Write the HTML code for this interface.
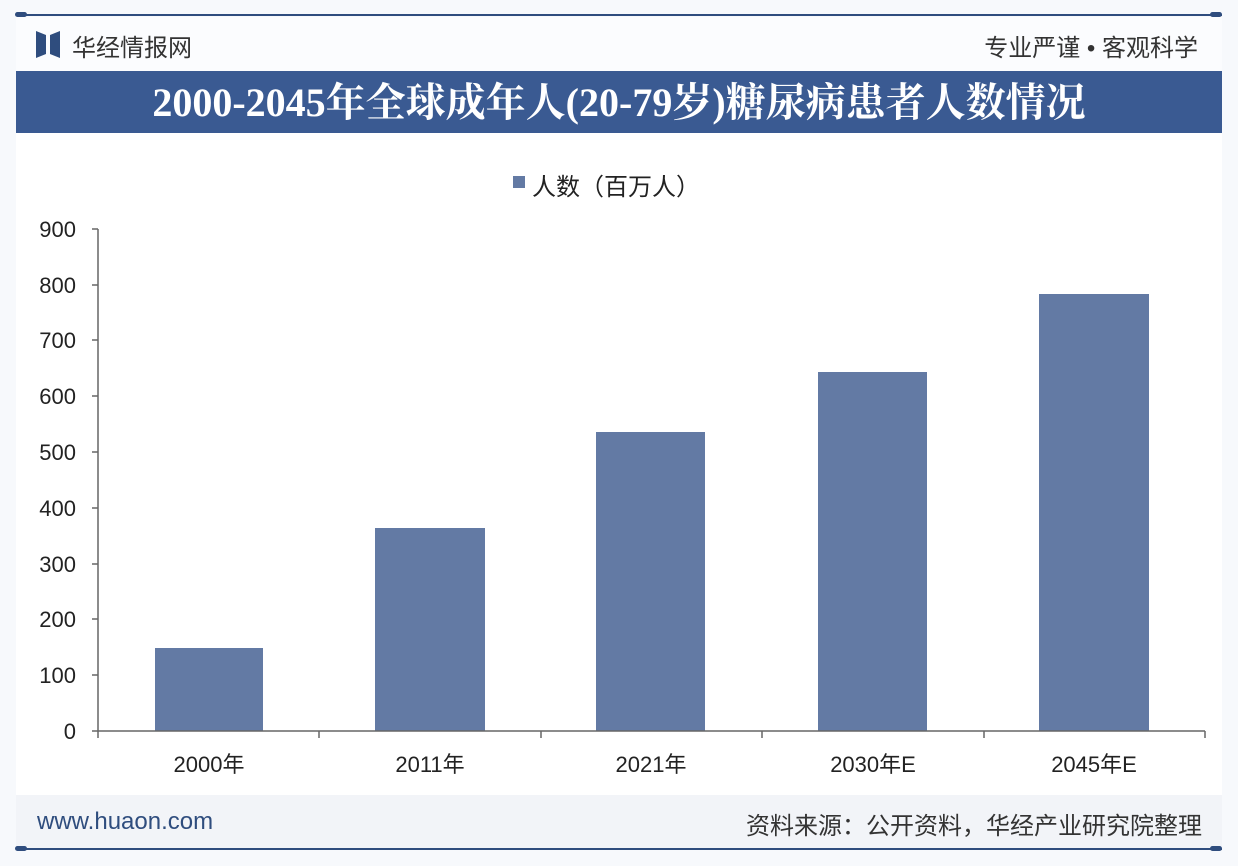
<!DOCTYPE html>
<html><head><meta charset="utf-8"><style>
body{margin:0;width:1238px;height:866px;background:#f7f9fc;position:relative;overflow:hidden;font-family:"Liberation Sans","Noto Sans CJK SC",sans-serif}
.a{position:absolute}
</style></head><body>
<div class="a" style="left:16px;top:14px;width:1206px;height:2px;background:#2f4d7e"></div>
<div class="a" style="left:15px;top:12px;width:12px;height:5px;border-radius:3px;background:#2f4d7e"></div>
<div class="a" style="left:1210px;top:12px;width:12px;height:5px;border-radius:3px;background:#2f4d7e"></div>
<div class="a" style="left:16px;top:17px;width:1206px;height:54px;background:#fbfcfe"></div>
<svg class="a" style="left:36px;top:31px" width="24" height="27"><polygon points="0,0 10,4 10,23 0,27" fill="#2f4d7e"/><polygon points="24,0 14,4 14,23 24,27" fill="#2f4d7e"/></svg>
<div class="a" style="left:72px;top:28px;font-size:24px;color:#333">华经情报网</div>
<div class="a" style="right:40px;top:28px;font-size:24px;color:#333">专业严谨 • 客观科学</div>
<div class="a" style="left:16px;top:71px;width:1206px;height:62px;background:#3a5a92"></div>
<div class="a" style="left:16px;top:80px;width:1206px;text-align:center;font-size:40px;line-height:46px;font-weight:bold;color:#fff;font-family:'Liberation Serif','Noto Serif CJK SC',serif">2000-2045年全球成年人(20-79岁)糖尿病患者人数情况</div>
<div class="a" style="left:16px;top:133px;width:1206px;height:662px;background:#fff"></div>
<div class="a" style="left:513px;top:176px;width:12px;height:12px;background:#637aa4"></div>
<div class="a" style="left:532px;top:167px;font-size:24px;color:#222">人数（百万人）</div>
<svg class="a" style="left:0;top:0" width="1238" height="866">
<g fill="#637aa4">
<rect x="155" y="648" width="108" height="83"/>
<rect x="375" y="528" width="110" height="203"/>
<rect x="596" y="432" width="109" height="299"/>
<rect x="818" y="372" width="109" height="359"/>
<rect x="1039" y="294" width="110" height="437"/>
</g>
<g stroke="#666" stroke-width="1.5" fill="none">
<line x1="98" y1="229" x2="98" y2="731"/>
<line x1="98" y1="731" x2="1205" y2="731"/>
<path d="M92 229H98M92 285H98M92 340H98M92 396H98M92 452H98M92 508H98M92 564H98M92 619H98M92 675H98M92 731H98"/>
<path d="M98 731V738M319 731V738M541 731V738M762 731V738M984 731V738M1205 731V738"/>
</g>
<g font-size="22" fill="#222" text-anchor="end" font-family="Liberation Sans,sans-serif">
<text x="76" y="237">900</text><text x="76" y="293">800</text><text x="76" y="348">700</text><text x="76" y="404">600</text><text x="76" y="460">500</text><text x="76" y="516">400</text><text x="76" y="572">300</text><text x="76" y="627">200</text><text x="76" y="683">100</text><text x="76" y="739">0</text>
</g>
<g font-size="22" fill="#222" text-anchor="middle" font-family="Liberation Sans,Noto Sans CJK SC,sans-serif">
<text x="209" y="772">2000年</text><text x="430" y="772">2011年</text><text x="651" y="772">2021年</text><text x="873" y="772">2030年E</text><text x="1094" y="772">2045年E</text>
</g>
</svg>
<div class="a" style="left:16px;top:795px;width:1206px;height:53px;background:#f2f4f8"></div>
<div class="a" style="left:37px;top:808px;font-size:24px;color:#2f4d7e">www.huaon.com</div>
<div class="a" style="right:36px;top:806px;font-size:24px;color:#333">资料来源：公开资料，华经产业研究院整理</div>
<div class="a" style="left:16px;top:848px;width:1206px;height:2px;background:#2f4d7e"></div>
<div class="a" style="left:15px;top:846px;width:12px;height:5px;border-radius:3px;background:#2f4d7e"></div>
<div class="a" style="left:1210px;top:846px;width:12px;height:5px;border-radius:3px;background:#2f4d7e"></div>
</body></html>
